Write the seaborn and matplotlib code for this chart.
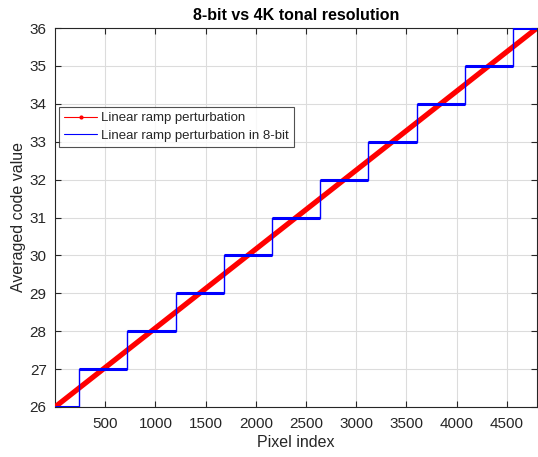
import matplotlib
matplotlib.use("Agg")
import matplotlib.pyplot as plt
from matplotlib.lines import Line2D
import seaborn as sns
import pandas as pd

# ---- data ----
ramp_x = [0, 4800]
ramp_y = [26, 36]
step_edges = [0, 240, 720, 1200, 1680, 2160, 2640, 3120, 3600, 4080, 4560, 4800]
step_levels = [26, 27, 28, 29, 30, 31, 32, 33, 34, 35, 36]
x_ticks = [500, 1000, 1500, 2000, 2500, 3000, 3500, 4000, 4500]
y_ticks = [26, 27, 28, 29, 30, 31, 32, 33, 34, 35, 36]

sns.set_theme(style="white")
plt.rcParams['font.family'] = ['Liberation Sans', 'DejaVu Sans']

fig = plt.figure(figsize=(5.38, 4.57), dpi=100)
ax = fig.add_axes([55/538, 1 - 407/457, 482/538, 379/457])

ramp_df = pd.DataFrame({"x": ramp_x, "y": ramp_y})
step_df = pd.DataFrame({"x": step_edges, "y": step_levels + [step_levels[-1]]})

sns.lineplot(data=ramp_df, x="x", y="y", ax=ax, color="#ff0000", linewidth=3.8,
             solid_capstyle="butt", zorder=3)
sns.lineplot(data=step_df, x="x", y="y", ax=ax, color="#0000ff", linewidth=1.0,
             drawstyle="steps-post", zorder=4)
ax.hlines(step_levels, step_edges[:-1], step_edges[1:], color="#0000ff",
          linewidth=2.2, zorder=4)

ax.set_xlim(0, 4800)
ax.set_ylim(26, 36)
ax.set_xticks(x_ticks)
ax.set_yticks(y_ticks)
ax.grid(True, color="#dcdcdc", linewidth=0.8)
ax.set_axisbelow(True)
ax.tick_params(direction="in", length=4, width=0.8, color="#262626",
               labelsize=11, labelcolor="#262626", top=True, right=True,
               bottom=True, left=True)
ax.tick_params(axis="x", pad=7)
ax.tick_params(axis="y", pad=6)
for s in ax.spines.values():
    s.set_color("#262626")
    s.set_linewidth(0.8)

ax.set_xlabel("Pixel index", fontsize=11.5, color="#262626", labelpad=3)
ax.set_ylabel("Averaged code value", fontsize=11.5, color="#262626", labelpad=3)
ax.set_title("8-bit vs 4K tonal resolution", fontsize=11.5, fontweight="bold",
             color="#000000", pad=6)

handles = [
    Line2D([0], [0], color="#ff0000", linewidth=0.8, marker=".", markersize=4),
    Line2D([0], [0], color="#0000ff", linewidth=0.8),
]
leg = ax.legend(handles, ["Linear ramp perturbation", "Linear ramp perturbation in 8-bit"],
                loc="upper left", bbox_to_anchor=(0.008, 0.792), borderaxespad=0,
                fontsize=9.5, frameon=True, fancybox=False, handlelength=2.5,
                handletextpad=0.3, borderpad=0.4, labelspacing=0.38)
leg.get_frame().set_edgecolor("#262626")
leg.get_frame().set_linewidth(0.8)

fig.savefig("out.png", dpi=100)
